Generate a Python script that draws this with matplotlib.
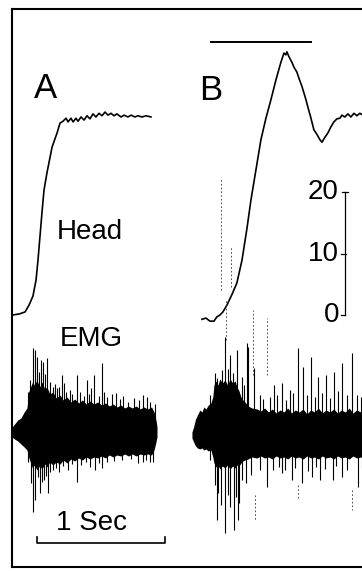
import matplotlib
matplotlib.use("Agg")
import matplotlib.pyplot as plt
import numpy as np

plt.rcParams['font.family'] = ['Liberation Sans', 'DejaVu Sans']

# ---- head position (deg) vs time (ms) ----
head_a_t = [8, 62, 102, 133, 164, 188, 203, 234, 250, 273, 313, 352, 375, 398,
            422, 438, 461, 477, 500, 516, 539, 563, 586, 609, 633, 656, 680, 703,
            727, 750, 773, 797, 820, 852, 875, 906, 930, 961, 984, 1016, 1047, 1086]
head_a_deg = [0.0, 0.2, 0.5, 1.6, 3.1, 5.7, 8.9, 16.6, 20.3, 23.1, 27.3, 29.6, 31.2, 31.5,
              32.0, 31.4, 32.0, 31.4, 32.0, 31.5, 32.2, 31.7, 32.4, 31.9, 32.7, 32.2, 32.8, 32.4,
              33.0, 32.5, 32.8, 32.4, 32.7, 32.2, 32.5, 32.2, 32.5, 32.2, 32.4, 32.2, 32.4, 32.2]

head_b_t = [0, 31, 63, 94, 117, 141, 164, 195, 234, 273, 313, 352, 383, 422, 461, 500,
            539, 578, 617, 641, 656, 664, 680, 703, 719, 742, 758, 781, 797, 813, 828,
            852, 875, 898, 922, 938, 961, 984, 1008, 1031, 1055, 1078, 1094, 1117, 1141,
            1164, 1188, 1211, 1234, 1258]
head_b_deg = [-0.7, -0.5, -1.0, -1.0, -0.3, 0.0, 0.5, 1.6, 3.3, 5.2, 8.9, 14.1, 18.7, 23.6,
              28.5, 32.0, 35.0, 38.2, 41.1, 42.6, 42.3, 42.8, 42.0, 41.1, 40.3, 39.5, 38.5,
              37.2, 36.1, 35.0, 33.8, 32.0, 30.1, 29.4, 28.5, 28.1, 28.9, 29.6, 30.6, 31.4,
              31.9, 32.0, 32.5, 32.2, 32.7, 32.2, 32.8, 32.4, 32.8, 32.5]

stim_b = [70, 852]          # bar above trace B (ms)
scale_deg = [0, 10, 20]

# ---- EMG envelopes (arbitrary units) ----
emg_a_t = [0, 20, 45, 70, 95, 117, 130, 148, 160, 175, 195, 215, 235, 255, 273, 295,
           320, 345, 375, 400, 430, 460, 490, 520, 550, 580, 610, 640, 670, 700, 730,
           760, 790, 820, 850, 880, 910, 940, 970, 1000, 1030, 1060, 1090, 1110, 1125, 1133]
emg_a_up = [5, 8, 12, 14, 20, 24, 40, 46, 50, 47, 52, 45, 50, 43, 45, 38,
            40, 34, 37, 32, 35, 30, 33, 29, 32, 28, 31, 28, 30, 27, 29,
            26, 28, 25, 27, 24, 26, 24, 26, 23, 25, 23, 25, 20, 12, 5]
emg_a_lo = [5, 7, 9, 12, 15, 18, 25, 32, 36, 33, 38, 34, 37, 32, 35, 30,
            33, 30, 32, 28, 31, 27, 29, 26, 28, 25, 27, 25, 26, 24, 26,
            23, 25, 23, 24, 22, 24, 22, 24, 22, 23, 22, 23, 18, 10, 5]

emg_b_t = [-78, -65, -50, -35, -16, 0, 15, 31, 50, 70, 85, 94, 110, 125, 140, 160, 180,
           200, 220, 240, 260, 273, 290, 305, 320, 336, 360, 390, 430, 460, 490, 520,
           550, 580, 610, 640, 670, 700, 730, 760, 790, 820, 850, 880, 910, 940, 970,
           1000, 1030, 1060, 1090, 1120, 1150, 1180, 1210, 1240, 1266]
emg_b_up = [3, 8, 16, 20, 25, 23, 28, 26, 30, 32, 38, 50, 54, 50, 56, 52, 55,
            50, 56, 52, 54, 48, 44, 38, 35, 33, 29, 27, 26, 24, 27, 23,
            26, 22, 25, 23, 27, 22, 25, 23, 26, 21, 25, 23, 27, 22, 25,
            23, 26, 22, 25, 23, 27, 22, 25, 23, 24]
emg_b_lo = [3, 7, 11, 13, 14, 13, 15, 14, 16, 15, 22, 28, 32, 30, 34, 31, 33,
            30, 34, 31, 33, 30, 31, 28, 26, 25, 24, 22, 23, 21, 23, 22,
            24, 21, 23, 22, 24, 21, 23, 22, 24, 21, 23, 22, 24, 21, 23,
            22, 24, 21, 23, 22, 24, 21, 23, 22, 23]

# spikes: time (ms), amplitude
spk_a_up_t = [164, 180, 195, 227, 242, 273, 320, 352, 391, 406, 508, 586, 641, 703, 813, 906, 1023, 1055,
              125, 140, 210, 260, 300, 335, 365, 420, 450, 470, 530, 560, 600, 620, 680, 720, 740,
              780, 840, 870, 950, 990, 1080, 1115]
spk_a_up = [84, 82, 75, 72, 70, 74, 45, 44, 57, 49, 57, 52, 57, 69, 39, 30, 37, 35,
            40, 52, 60, 58, 50, 48, 45, 40, 42, 38, 40, 36, 38, 44, 36, 40, 35,
            38, 33, 36, 34, 32, 30, 28]
spk_a_lo_t = [148, 164, 180, 219, 250, 281, 320, 438, 508, 609, 648, 703, 984, 1023, 1102,
              125, 200, 235, 265, 300, 340, 370, 400, 470, 540, 580, 680, 740, 800, 860, 930, 1050, 1080]
spk_a_lo = [51, 80, 68, 61, 48, 61, 38, 38, 50, 35, 38, 36, 31, 30, 30,
            30, 45, 50, 44, 40, 36, 40, 34, 32, 33, 30, 31, 30, 29, 28, 27, 28, 30]

spk_b_up_t = [117, 141, 180, 219, 273, 352, 359, 406, 563, 625, 711, 750, 789, 852, 906, 969, 1031, 1094,
              1172, 1211, 60, 100, 160, 200, 240, 310, 330, 450, 480, 530, 590, 660, 690, 820, 880,
              940, 1000, 1060, 1130, 1240]
spk_b_up = [57, 55, 98, 80, 85, 92, 88, 67, 50, 52, 42, 87, 68, 78, 58, 60, 63, 72,
            82, 40, 40, 62, 65, 66, 62, 58, 50, 40, 36, 38, 40, 35, 45, 40, 38,
            42, 37, 44, 40, 38]
spk_b_lo_t = [117, 125, 180, 219, 250, 281, 289, 344, 508, 555, 625, 703, 781, 859, 922, 1023, 1094, 1219,
              60, 100, 150, 200, 265, 310, 380, 450, 600, 650, 730, 830, 890, 960, 1050, 1130, 1250]
spk_b_lo = [85, 58, 98, 72, 95, 85, 68, 48, 52, 35, 38, 45, 48, 42, 45, 45, 42, 52,
            25, 50, 70, 60, 62, 45, 40, 35, 32, 35, 33, 36, 32, 34, 31, 35, 33]
# faint dashed spikes in B: time, amp from, amp to
faint_b_t = [148, 227, 188, 398, 508, 414, 750, 1172]
faint_b_from = [145, 148, 95, 60, 60, -60, -50, -55]
faint_b_to = [257, 188, 135, 125, 117, -85, -65, -75]

B_OFFSET = 1484   # ms
EMG_BASE_A = 1
EMG_BASE_B = -2

fig = plt.figure(figsize=(3.62, 5.71), dpi=100)
ax = fig.add_axes([12/362, 1 - 567/571, (366-12)/362, (567-9)/571])
ax.set_xlim(0, 2766)
ax.set_ylim(-40.98, 49.76)
ax.set_xticks([]); ax.set_yticks([])
for s in ax.spines.values():
    s.set_linewidth(1.5)

ax_emg = ax.twinx()
ax_emg.set_ylim(-134, 424)
ax_emg.set_yticks([])
for s in ax_emg.spines.values():
    s.set_visible(False)

# head traces
ax.plot(head_a_t, head_a_deg, color='black', lw=1.2)
tb = np.array(head_b_t) + B_OFFSET
ax.plot(tb, head_b_deg, color='black', lw=1.2)
ax.plot(np.array(stim_b) + B_OFFSET, [44.4, 44.4], color='black', lw=1.4)

# scale bar (deg)
sx = 1117 + B_OFFSET
ax.plot([sx, sx], [scale_deg[0], scale_deg[-1]], color='black', lw=0.9)
ax.plot([sx - 23, sx + 23], [20, 20], color='black', lw=0.9)
ax.plot([sx - 30, sx + 8], [10, 10], color='black', lw=0.9)
ax.plot([sx - 30, sx], [0, 0], color='black', lw=0.9)
for v, xo in zip(scale_deg, [-30, -40, -40]):
    ax.text(sx + xo - 10, v, str(v), ha='right', va='center', fontsize=20)

# 1 sec bracket
ax.plot([195, 195, 1195, 1195], [-36.1, -37.1, -37.1, -36.1], color='black', lw=1.2)

# EMG
ta = np.array(emg_a_t)
ax_emg.fill_between(ta, EMG_BASE_A + np.array(emg_a_up), EMG_BASE_A - np.array(emg_a_lo),
                    color='black', lw=0)
ax_emg.vlines(spk_a_up_t, EMG_BASE_A, EMG_BASE_A + np.array(spk_a_up), color='black', lw=0.8)
ax_emg.vlines(spk_a_lo_t, EMG_BASE_A, EMG_BASE_A - np.array(spk_a_lo), color='black', lw=0.8)

tbe = np.array(emg_b_t) + B_OFFSET
ax_emg.fill_between(tbe, EMG_BASE_B + np.array(emg_b_up), EMG_BASE_B - np.array(emg_b_lo),
                    color='black', lw=0)
ax_emg.vlines(np.array(spk_b_up_t) + B_OFFSET, EMG_BASE_B, EMG_BASE_B + np.array(spk_b_up),
              color='black', lw=0.8)
ax_emg.vlines(np.array(spk_b_lo_t) + B_OFFSET, EMG_BASE_B, EMG_BASE_B - np.array(spk_b_lo),
              color='black', lw=0.8)
ax_emg.vlines(np.array(faint_b_t) + B_OFFSET, EMG_BASE_B + np.array(faint_b_from),
              EMG_BASE_B + np.array(faint_b_to), color='#333333', lw=0.6,
              linestyles=(0, (2, 2.5)))

# labels
fig.text(46/362, 1 - 89/571, "A", fontsize=25, ha='center', va='center')
fig.text(211/362, 1 - 90/571, "B", fontsize=25, ha='center', va='center')
fig.text(90/362, 1 - 232/571, "Head", fontsize=20, ha='center', va='center')
fig.text(91/362, 1 - 339/571, "EMG", fontsize=20, ha='center', va='center')
fig.text(92/362, 1 - 523/571, "1 Sec", fontsize=20, ha='center', va='center')

fig.savefig("out.png", dpi=100)
